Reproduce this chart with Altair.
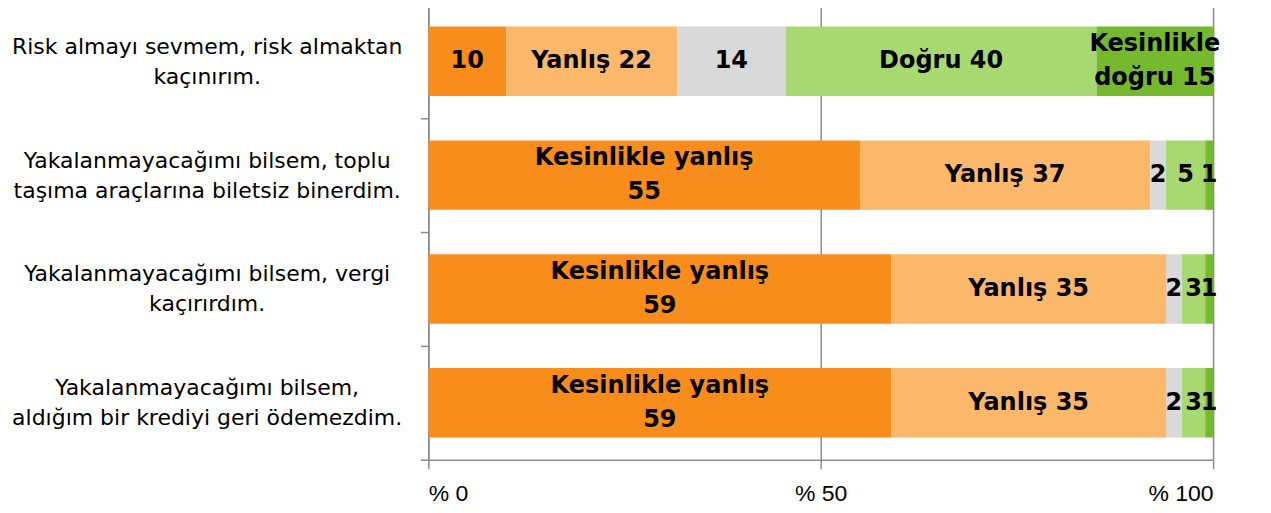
import altair as alt
import pandas as pd

statements = [
    "Risk almayı sevmem, risk almaktan\nkaçınırım.",
    "Yakalanmayacağımı bilsem, toplu\ntaşıma araçlarına biletsiz binerdim.",
    "Yakalanmayacağımı bilsem, vergi\nkaçırırdım.",
    "Yakalanmayacağımı bilsem,\naldığım bir krediyi geri ödemezdim.",
]
categories = ["Kesinlikle yanlış", "Yanlış", "Ne doğru ne yanlış", "Doğru", "Kesinlikle doğru"]
colors = ["#F88D1C", "#FBB86A", "#D9D9D9", "#A8D970", "#76B82E"]
values = [
    [10, 22, 14, 40, 15],
    [55, 37, 2, 5, 1],
    [59, 35, 2, 3, 1],
    [59, 35, 2, 3, 1],
]
labels = [
    ["10", "Yanlış 22", "14", "Doğru 40", "Kesinlikle\ndoğru 15"],
    ["Kesinlikle yanlış\n55", "Yanlış 37", "2", "5", "1"],
    ["Kesinlikle yanlış\n59", "Yanlış 35", "2", "3", "1"],
    ["Kesinlikle yanlış\n59", "Yanlış 35", "2", "3", "1"],
]

rows = []
for i, s in enumerate(statements):
    for j, c in enumerate(categories):
        rows.append({"stmt": s, "cat": c, "ord": j, "val": values[i][j], "lab": labels[i][j]})
df = pd.DataFrame(rows)

base = (
    alt.Chart(df)
    .transform_joinaggregate(tot="sum(val)", groupby=["stmt"])
    .transform_calculate(pct="datum.val / datum.tot")
    .transform_stack(stack="pct", as_=["x0", "x1"], groupby=["stmt"], sort=[alt.SortField("ord")])
    .transform_calculate(xm="(datum.x0 + datum.x1) / 2", multi="indexof(datum.lab, '\\n') >= 0")
)

yscale = alt.Scale(paddingInner=0, paddingOuter=0)

yenc = alt.Y(
    "stmt:N",
    sort=statements,
    title=None,
    scale=yscale,
    axis=alt.Axis(
        tickBand="extent",
        labelAlign="center",
        labelBaseline="middle",
        labelPadding=214,
        labelOffset=-15,
        labelLimit=0,
        labelFont="DejaVu Sans",
        labelFontSize=22,
        labelLineHeight=30,
        labelColor="#000000",
        labelExpr="split(datum.label, '\\n')",
        tickSize=8,
        tickColor="#8c8c8c",
        tickWidth=1.5,
        domainColor="#8c8c8c",
        domainWidth=1.5,
        grid=False,
    ),
)

bars = base.mark_bar(height={"band": 0.61}).encode(
    x=alt.X(
        "x0:Q",
        title=None,
        scale=alt.Scale(domain=[0, 1], nice=False),
        axis=alt.Axis(
            values=[0, 0.5, 1],
            labelExpr="'% ' + round(datum.value * 100)",
            grid=True,
            gridColor="#8c8c8c",
            gridWidth=1.5,
            domainColor="#8c8c8c",
            domainWidth=1.5,
            tickColor="#8c8c8c",
            tickWidth=1.5,
            tickSize=9,
            labelFont="Liberation Sans",
            labelFontSize=23,
            labelColor="#000000",
            labelPadding=14,
        ),
    ),
    x2="x1:Q",
    y=yenc,
    color=alt.Color("cat:N", scale=alt.Scale(domain=categories, range=colors), legend=None),
)

text_style = dict(
    font="DejaVu Sans",
    fontSize=24,
    fontWeight="bold",
    lineBreak="\n",
    lineHeight=34,
    color="#000000",
)

text_enc = dict(
    x=alt.X("xm:Q"),
    y=alt.Y("stmt:N", sort=statements),
    text="lab:N",
)

texts_single = base.transform_filter("!datum.multi").mark_text(**text_style).encode(**text_enc)
texts_multi = base.transform_filter("datum.multi").mark_text(dy=-17, **text_style).encode(**text_enc)

chart = (
    alt.layer(bars, texts_single, texts_multi)
    .properties(
        width=786,
        height=456,
        autosize=alt.AutoSizeParams(type="none"),
        padding={"left": 421, "top": -4, "right": 50, "bottom": 48},
    )
    .configure_view(stroke=None)
)

chart.save("out.html", embed_options={"renderer": "svg", "actions": False})
